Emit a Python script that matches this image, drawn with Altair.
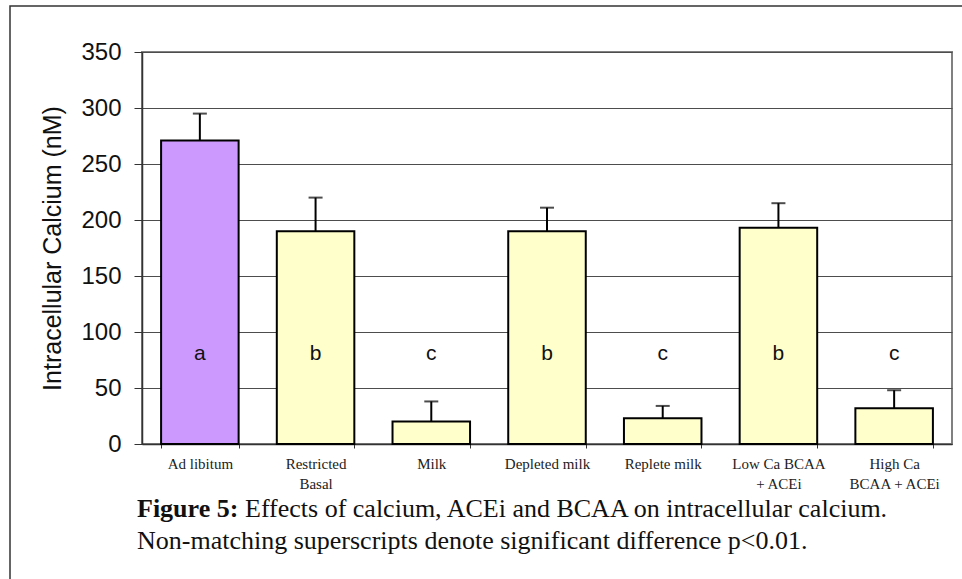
import altair as alt
import pandas as pd

# Treatment groups (a newline splits the axis label onto two lines)
groups = [
    "Ad libitum",
    "Restricted\nBasal",
    "Milk",
    "Depleted milk",
    "Replete milk",
    "Low Ca BCAA\n+ ACEi",
    "High Ca\nBCAA + ACEi",
]
# Mean intracellular calcium (nM) and upper error (SEM)
means = [271, 190, 20, 190, 23, 193, 32]
errors = [24, 30, 18, 21, 11, 22, 16]
letters = ["a", "b", "c", "b", "c", "b", "c"]
fills = ["#CC99FF", "#FFFFCC", "#FFFFCC", "#FFFFCC", "#FFFFCC", "#FFFFCC", "#FFFFCC"]

caption_bold = "Figure 5:"
caption_rest = "Effects of calcium, ACEi and BCAA on intracellular calcium."
caption_line2 = "Non-matching superscripts denote significant difference p<0.01."

df = pd.DataFrame({
    "group": groups,
    "mean": means,
    "upper": [m + e for m, e in zip(means, errors)],
    "letter": letters,
    "fill": fills,
})

x_enc = alt.X(
    "group:N",
    sort=groups,
    title=None,
    scale=alt.Scale(paddingInner=0.33, paddingOuter=0.165),
    axis=alt.Axis(
        labelAngle=0,
        labelExpr="split(datum.label, '\\n')",
        labelFont="Liberation Serif",
        labelFontSize=15,
        labelColor="#222222",
        labelLineHeight=20,
        labelPadding=8,
        labelBaseline="top",
        tickBand="extent",
        tickSize=4,
        tickColor="#333333",
        domainColor="#333333",
        domainWidth=1.5,
        grid=False,
    ),
)
y_scale = alt.Scale(domain=[0, 350], nice=False, zero=True)

base = alt.Chart(df)

bars = base.mark_bar(stroke="black", strokeWidth=2).encode(
    x=x_enc,
    y=alt.Y(
        "mean:Q",
        scale=y_scale,
        title="Intracellular Calcium (nM)",
        axis=alt.Axis(
            values=[0, 50, 100, 150, 200, 250, 300, 350],
            grid=True,
            gridColor="#4d4d4d",
            gridWidth=1.2,
            domainColor="#333333",
            domainWidth=1.5,
            tickColor="#333333",
            tickSize=8,
            labelFont="Liberation Sans",
            labelFontSize=24,
            labelColor="#111111",
            labelPadding=13,
            titleFont="Liberation Sans",
            titleFontSize=25,
            titleFontWeight="normal",
            titleColor="#111111",
            titleAngle=-90,
            titleX=-90,
            titleY=196,
            titleAlign="center",
            titleBaseline="middle",
        ),
    ),
    color=alt.Color("fill:N", scale=None),
)

err_rule = base.mark_rule(color="black", strokeWidth=2).encode(
    x=alt.X("group:N", sort=groups),
    y=alt.Y("mean:Q", scale=y_scale),
    y2="upper:Q",
)

err_cap = base.mark_tick(color="black", thickness=2, size=14).encode(
    x=alt.X("group:N", sort=groups),
    y=alt.Y("upper:Q", scale=y_scale),
)

sig = base.mark_text(
    font="Liberation Sans", fontSize=21, color="#111111", baseline="middle"
).encode(
    x=alt.X("group:N", sort=groups),
    y=alt.datum(80),
    text="letter:N",
)

cap_df = pd.DataFrame({"bold": [caption_bold], "rest": [caption_rest], "line2": [caption_line2]})
cap = alt.Chart(cap_df)
cap_style = dict(font="Liberation Serif", fontSize=26, align="left",
                 baseline="alphabetic", color="#111111")
cap1 = cap.mark_text(fontWeight="bold", **cap_style).encode(
    x=alt.value(-5), y=alt.value(465), text="bold:N")
cap2 = cap.mark_text(**cap_style).encode(
    x=alt.value(103), y=alt.value(465), text="rest:N")
cap3 = cap.mark_text(**cap_style).encode(
    x=alt.value(-5), y=alt.value(497), text="line2:N")

frame = cap.mark_rect(fill=None, stroke="#333333", strokeWidth=1.5).encode(
    x=alt.value(-132), y=alt.value(-46), x2=alt.value(1000), y2=alt.value(700)
)

chart = (
    alt.layer(frame, bars, err_rule, err_cap, sig, cap1, cap2, cap3)
    .properties(
        width=810,
        height=392,
        autosize=alt.AutoSizeParams(type="none"),
        padding={"left": 142, "top": 52, "right": 10, "bottom": 135},
        background="white",
    )
    .configure_view(stroke="#808080", strokeWidth=2)
)

chart.save("out.html", embed_options={"renderer": "svg", "actions": False})
